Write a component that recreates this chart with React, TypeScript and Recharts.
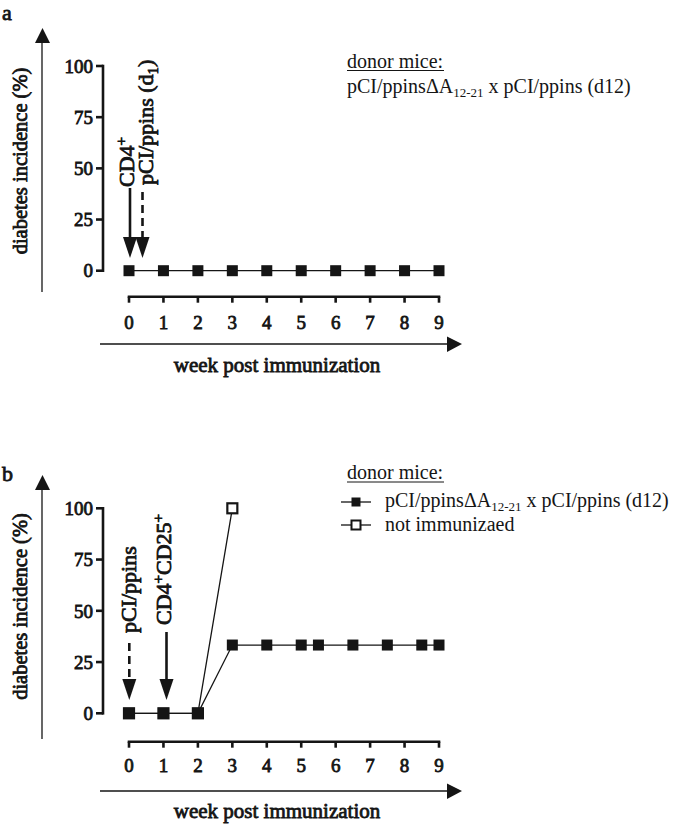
import { LineChart, Line, XAxis, YAxis, ReferenceLine, Legend } from 'recharts'

const SERIF = "'Liberation Serif', 'Times New Roman', serif"
const INK = '#151515'

// panel a: transfer from pCI/ppinsΔA12-21 x pCI/ppins donors
const weeksA = [0, 1, 2, 3, 4, 5, 6, 7, 8, 9]
const incidenceA = [0, 0, 0, 0, 0, 0, 0, 0, 0, 0]

// panel b
const weeksImmunized = [0, 1, 2, 3, 4, 5, 5.5, 6.5, 7.5, 8.5, 9]
const incidenceImmunized = [0, 0, 0, 33.3, 33.3, 33.3, 33.3, 33.3, 33.3, 33.3, 33.3]
const weeksNaive = [0, 1, 2, 3]
const incidenceNaive = [0, 0, 0, 100]

const weekTicks = [0, 1, 2, 3, 4, 5, 6, 7, 8, 9]
const incidenceTicks = [0, 25, 50, 75, 100]

const toRows = (weeks: number[], values: number[]) => weeks.map((week, i) => ({ week, value: values[i] }))

const rowsA = toRows(weeksA, incidenceA)
const rowsImmunized = toRows(weeksImmunized, incidenceImmunized)
const rowsNaive = toRows(weeksNaive, incidenceNaive)

// offset axes (prism style): x starts a bit left of week 0
const X_MIN = -0.755

// the bold serif face is not installed, so thicken the regular one with a stroke
const bold = { fontFamily: SERIF, fontWeight: 400, fill: INK, stroke: INK, strokeWidth: 0.8 }
const tickStyle = { ...bold, fontSize: 19 }

function SquareDot({ cx, cy, filled }: any) {
  if (cx == null || cy == null) return null
  if (filled) return <rect x={cx - 5.5} y={cy - 5.5} width={11} height={11} fill={INK} />
  return <rect x={cx - 5} y={cy - 5} width={10} height={10} fill="#fff" stroke={INK} strokeWidth={2.2} />
}

function TextLegendA() {
  return (
    <svg width={355} height={64} style={{ display: 'block' }}>
      <g fontFamily={SERIF} fontSize={20} fill={INK}>
        <text x={27} y={27.7}>donor mice:</text>
        <line x1={27} x2={124} y1={30.5} y2={30.5} stroke={INK} strokeWidth={1} />
        <text x={27} y={53.3}>
          pCI/ppinsΔA<tspan dy={4} fontSize={13}>12-21</tspan>
          <tspan dy={-4}> x pCI/ppins (d12)</tspan>
        </text>
      </g>
    </svg>
  )
}

function TextLegendB() {
  return (
    <svg width={355} height={84} style={{ display: 'block' }}>
      <g fontFamily={SERIF} fontSize={20} fill={INK}>
        <text x={27} y={24}>donor mice:</text>
        <line x1={27} x2={124} y1={27} y2={27} stroke={INK} strokeWidth={1} />
        <line x1={21} x2={51} y1={47} y2={47} stroke={INK} strokeWidth={1.3} />
        <rect x={31.5} y={42.5} width={9} height={9} fill={INK} />
        <text x={65} y={52}>
          pCI/ppinsΔA<tspan dy={4} fontSize={13}>12-21</tspan>
          <tspan dy={-4}> x pCI/ppins (d12)</tspan>
        </text>
        <line x1={21} x2={51} y1={70} y2={70} stroke={INK} strokeWidth={1.3} />
        <rect x={31.5} y={65.5} width={9} height={9} fill="#fff" stroke={INK} strokeWidth={2} />
        <text x={65} y={76}>not immunizaed</text>
      </g>
    </svg>
  )
}

function Panel({ height, top, bottom, yMin, tickGap, children, legend, legendTop }: any) {
  return (
    <LineChart width={675} height={height} margin={{ top, right: 236, bottom, left: 43 }}>
      <XAxis
        type="number"
        dataKey="week"
        domain={[X_MIN, 9]}
        ticks={weekTicks}
        interval={0}
        height={40}
        axisLine={false}
        stroke={INK}
        tickLine={{ stroke: INK, strokeWidth: 2.6 }}
        tickSize={6}
        tickMargin={tickGap}
        tick={tickStyle}
      />
      <YAxis
        type="number"
        domain={[yMin, 100]}
        ticks={incidenceTicks}
        interval={0}
        width={60}
        axisLine={false}
        stroke={INK}
        tickLine={{ stroke: INK, strokeWidth: 2.6 }}
        tickSize={7}
        tickMargin={3}
        tick={tickStyle}
      />
      <ReferenceLine
        segment={[{ x: X_MIN, y: 0 }, { x: X_MIN, y: 100 }]}
        stroke={INK}
        strokeWidth={2.6}
        strokeLinecap="square"
        ifOverflow="visible"
      />
      <ReferenceLine
        segment={[{ x: 0, y: yMin }, { x: 9, y: yMin }]}
        stroke={INK}
        strokeWidth={2.6}
        strokeLinecap="square"
        ifOverflow="visible"
      />
      {children}
      <Legend
        layout="vertical"
        align="center"
        verticalAlign="middle"
        wrapperStyle={{ left: 320, top: legendTop, width: 355 }}
        content={legend}
      />
    </LineChart>
  )
}

function DownArrow({ x, y1, y2, dashed }: { x: number; y1: number; y2: number; dashed?: boolean }) {
  return (
    <g>
      <line x1={x} x2={x} y1={y1} y2={y2 - 20} stroke={INK} strokeWidth={2.6} strokeDasharray={dashed ? '8 5' : undefined} />
      <polygon points={`${x - 7},${y2 - 21} ${x + 7},${y2 - 21} ${x},${y2}`} fill={INK} />
    </g>
  )
}

function AxisArrows({ off }: { off: number }) {
  return (
    <g>
      <line x1={42} x2={42} y1={off + 42} y2={off + 292} stroke={INK} strokeWidth={1.3} />
      <polygon points={`35,${off + 43} 50,${off + 43} 42.5,${off + 28}`} fill={INK} />
      <line x1={100} x2={448} y1={off + 344} y2={off + 344} stroke={INK} strokeWidth={1.3} />
      <polygon points={`447,${off + 336.5} 447,${off + 352} 462,${off + 344}`} fill={INK} />
    </g>
  )
}

function Overlay() {
  return (
    <svg width={675} height={827} style={{ position: 'absolute', left: 0, top: 0, pointerEvents: 'none' }}>
      <AxisArrows off={0} />
      <AxisArrows off={447} />

      <text x={2} y={20} fontSize={22} {...bold}>a</text>
      <text x={2} y={481} fontSize={22} {...bold}>b</text>

      <text transform="translate(27,161) rotate(-90)" textAnchor="middle" fontSize={20.5} {...bold}>diabetes incidence (%)</text>
      <text transform="translate(27,606.5) rotate(-90)" textAnchor="middle" fontSize={20.5} {...bold}>diabetes incidence (%)</text>

      <text x={277} y={372} textAnchor="middle" fontSize={21} {...bold}>week post immunization</text>
      <text x={277} y={818} textAnchor="middle" fontSize={21} {...bold}>week post immunization</text>

      {/* panel a annotations */}
      <DownArrow x={130} y1={188} y2={258} />
      <DownArrow x={142.5} y1={192} y2={258} dashed />
      <text transform="translate(134,187) rotate(-90)" fontSize={22} {...bold}>
        CD4<tspan dy={-8} fontSize={15}>+</tspan>
      </text>
      <text transform="translate(153,185) rotate(-90)" fontSize={22} {...bold}>
        pCI/ppins (d<tspan dy={5} fontSize={15}>1</tspan>
        <tspan dy={-5}>)</tspan>
      </text>

      {/* panel b annotations */}
      <DownArrow x={129.3} y1={643} y2={700} dashed />
      <DownArrow x={166.5} y1={632} y2={700} />
      <text transform="translate(136,633) rotate(-90)" fontSize={22} {...bold}>pCI/ppins</text>
      <text transform="translate(171,625) rotate(-90)" fontSize={22} {...bold}>
        CD4<tspan dy={-8} fontSize={15}>+</tspan>
        <tspan dy={8}>CD25</tspan>
        <tspan dy={-8} fontSize={15}>+</tspan>
      </text>
    </svg>
  )
}

export default function App() {
  return (
    <div style={{ position: 'absolute', left: 0, top: 0, width: 675, height: 827, background: '#fff', fontFamily: SERIF }}>
      <div style={{ position: 'absolute', left: 0, top: 0 }}>
        <Panel height={420} top={66} bottom={83.3} yMin={-12.7} tickGap={13} legend={TextLegendA} legendTop={40}>
          <Line
            data={rowsA}
            dataKey="value"
            type="linear"
            stroke={INK}
            strokeWidth={1.3}
            dot={(p: any) => <SquareDot key={`a-${p.index}`} cx={p.cx} cy={p.cy} filled />}
            isAnimationActive={false}
          />
        </Panel>
      </div>
      <div style={{ position: 'absolute', left: 0, top: 420 }}>
        <Panel height={407} top={88.3} bottom={45.3} yMin={-13.85} tickGap={11} legend={TextLegendB} legendTop={35}>
          <Line
            data={rowsNaive}
            dataKey="value"
            name="not immunizaed"
            type="linear"
            stroke={INK}
            strokeWidth={1.3}
            dot={(p: any) => <SquareDot key={`n-${p.index}`} cx={p.cx} cy={p.cy} />}
            isAnimationActive={false}
          />
          <Line
            data={rowsImmunized}
            dataKey="value"
            name="pCI/ppinsΔA12-21 x pCI/ppins (d12)"
            type="linear"
            stroke={INK}
            strokeWidth={1.3}
            dot={(p: any) => <SquareDot key={`i-${p.index}`} cx={p.cx} cy={p.cy} filled />}
            isAnimationActive={false}
          />
        </Panel>
      </div>
      <Overlay />
    </div>
  )
}
